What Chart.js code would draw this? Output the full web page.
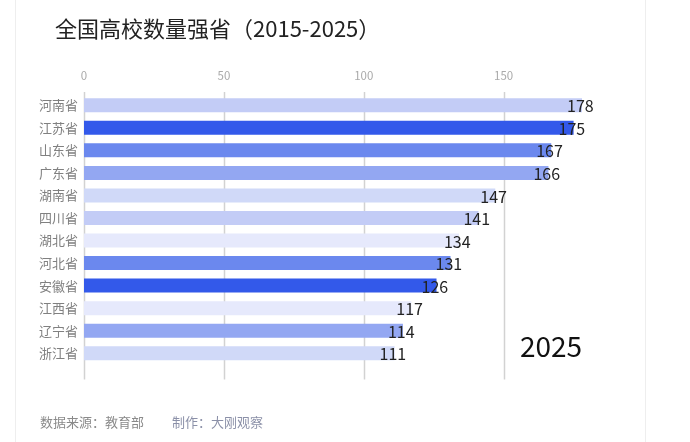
<!DOCTYPE html>
<html>
<head>
<meta charset="utf-8">
<script src="https://cdn.jsdelivr.net/npm/chart.js@4/dist/chart.umd.min.js"></script>
<style>
  html, body { margin: 0; padding: 0; background: #fff; }
  body { width: 690px; height: 442px; position: relative; overflow: hidden; font-family: "Noto Sans CJK SC", "Noto Sans", sans-serif; }
  #card { position: absolute; left: 15px; top: 0; width: 629px; height: 442px; border-left: 1px solid #eeeeee; border-right: 1px solid #eeeeee; }
  #chart { position: absolute; left: 0; top: 0; }
  #title { position: absolute; left: 55px; top: 11px; font-size: 22px; color: #222; white-space: nowrap; }
  #year { position: absolute; left: 520px; top: 325px; font-size: 28px; color: #111; }
  #source { position: absolute; left: 40px; top: 412px; font-size: 13px; color: #8a8a8a; }
  #maker { position: absolute; left: 172px; top: 412px; font-size: 13px; color: #8b90a8; }
</style>
</head>
<body>
<div id="card"></div>
<canvas id="chart" width="690" height="442"></canvas>
<div id="title">全国高校数量强省（2015-2025）</div>
<div id="year">2025</div>
<div id="source">数据来源：教育部</div>
<div id="maker">制作：大刚观察</div>
<script>
const provinces = ['河南省', '江苏省', '山东省', '广东省', '湖南省', '四川省', '湖北省', '河北省', '安徽省', '江西省', '辽宁省', '浙江省'];
const schoolCounts = [178, 175, 167, 166, 147, 141, 134, 131, 126, 117, 114, 111];
const barColors = ['#c3ccf6', '#3359ea', '#6b88ee', '#93a7f2', '#d0d9f8', '#c3ccf6', '#e6e9fc', '#6b88ee', '#3359ea', '#e6e9fc', '#93a7f2', '#d0d9f8'];
const xTicks = [0, 50, 100, 150];
const xMax = 178;

const FONT = '"Noto Sans CJK SC", "Noto Sans", sans-serif';

// vertical grid lines, drawn a little past the plot area like the original
const gridPlugin = {
    id: 'longGrid',
    beforeDatasetsDraw(chart) {
        const ctx = chart.ctx, x = chart.scales.x, area = chart.chartArea;
        ctx.save();
        ctx.strokeStyle = '#d2d2d2';
        ctx.lineWidth = 1.5;
        xTicks.forEach(v => {
            const px = Math.round(x.getPixelForValue(v)) + 0.5;
            ctx.beginPath();
            ctx.moveTo(px, area.top - 2);
            ctx.lineTo(px, area.bottom + 15);
            ctx.stroke();
        });
        ctx.restore();
    }
};

const valuePlugin = {
    id: 'valueLabels',
    afterDatasetsDraw(chart) {
        const ctx = chart.ctx;
        const meta = chart.getDatasetMeta(0);
        ctx.save();
        ctx.font = '16px ' + FONT;
        ctx.fillStyle = '#222';
        ctx.textAlign = 'left';
        ctx.textBaseline = 'middle';
        meta.data.forEach((bar, i) => {
            ctx.fillText(String(schoolCounts[i]), bar.x - 15, bar.y + 1);
        });
        ctx.restore();
    }
};

new Chart(document.getElementById('chart').getContext('2d'), {
    type: 'bar',
    data: {
        labels: provinces,
        datasets: [{
            data: schoolCounts,
            backgroundColor: barColors,
            borderWidth: 0,
            barPercentage: 0.62,
            categoryPercentage: 1
        }]
    },
    options: {
        indexAxis: 'y',
        responsive: false,
        animation: false,
        layout: { padding: { top: 60, right: 108, bottom: 77.5, left: 0 } },
        plugins: { legend: { display: false }, tooltip: { enabled: false } },
        scales: {
            x: {
                position: 'top',
                min: 0,
                max: xMax,
                grid: { display: false },
                border: { display: false },
                afterBuildTicks: scale => { scale.ticks = xTicks.map(v => ({ value: v })); },
                afterFit: scale => { scale.height = 34; },
                ticks: { color: '#aaaaaa', padding: 3, font: { family: FONT, size: 11.5 } }
            },
            y: {
                grid: { display: false, drawTicks: false },
                border: { display: false },
                afterFit: scale => { scale.width = 84; },
                ticks: { color: '#808080', padding: 6, font: { family: FONT, size: 13 } }
            }
        }
    },
    plugins: [gridPlugin, valuePlugin]
});
</script>
</body>
</html>
